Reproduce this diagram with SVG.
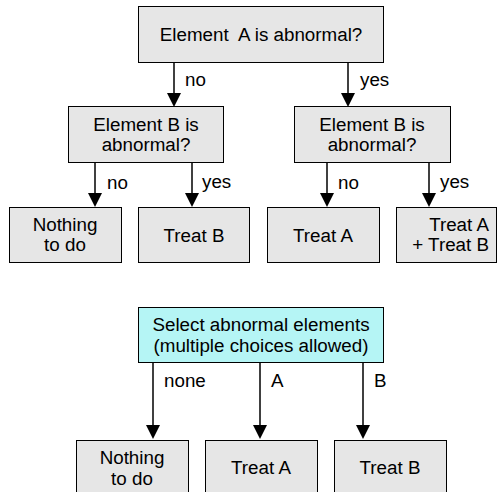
<svg xmlns="http://www.w3.org/2000/svg" width="497" height="492" viewBox="0 0 497 492">
<defs>
<style>
.box{fill:#e6e6e6;stroke:#000;stroke-width:1}
.cyan{fill:#b5f5f5;stroke:#000;stroke-width:1}
text{font-family:"Liberation Sans",Arial,sans-serif;font-size:18.8px;fill:#000}
.c{text-anchor:middle}
.r{text-anchor:end}
.ln{stroke:#000;stroke-width:1.5;fill:none}
.hd{fill:#000}
</style>
</defs>
<rect width="497" height="492" fill="#fff"/>
<g id="connectors">
<line class="ln" x1="174" y1="62" x2="174" y2="96"/><path class="hd" d="M167,93 L181,93 L174,107 Z"/>
<line class="ln" x1="348" y1="62" x2="348" y2="96"/><path class="hd" d="M341,93 L355,93 L348,107 Z"/>
<line class="ln" x1="95" y1="162" x2="95" y2="196"/><path class="hd" d="M88,193 L102,193 L95,207 Z"/>
<line class="ln" x1="192" y1="162" x2="192" y2="196"/><path class="hd" d="M185,193 L199,193 L192,207 Z"/>
<line class="ln" x1="327" y1="162" x2="327" y2="196"/><path class="hd" d="M320,193 L334,193 L327,207 Z"/>
<line class="ln" x1="429" y1="162" x2="429" y2="196"/><path class="hd" d="M422,193 L436,193 L429,207 Z"/>
<line class="ln" x1="153" y1="362" x2="153" y2="428"/><path class="hd" d="M146,425 L160,425 L153,439 Z"/>
<line class="ln" x1="260" y1="362" x2="260" y2="428"/><path class="hd" d="M253,425 L267,425 L260,439 Z"/>
<line class="ln" x1="363" y1="362" x2="363" y2="428"/><path class="hd" d="M356,425 L370,425 L363,439 Z"/>
<text x="185" y="86">no</text>
<text x="360" y="86">yes</text>
<text x="107" y="189">no</text>
<text x="202" y="188">yes</text>
<text x="338" y="189">no</text>
<text x="440" y="188">yes</text>
<text x="164" y="387">none</text>
<text x="271" y="387">A</text>
<text x="374" y="387">B</text>
</g>
<g id="q1"><rect class="box" x="138.5" y="6.5" width="245" height="56"/><text class="c" x="261" y="41" xml:space="preserve">Element  A is abnormal?</text></g>
<g id="q2"><rect class="box" x="68.5" y="106.5" width="155" height="56"/><text class="c" x="146" y="131">Element B is</text><text class="c" x="146" y="151">abnormal?</text></g>
<g id="q3"><rect class="box" x="294.5" y="106.5" width="156" height="56"/><text class="c" x="372" y="131">Element B is</text><text class="c" x="372" y="151">abnormal?</text></g>
<g id="n1"><rect class="box" x="9.5" y="207.5" width="112" height="55"/><text class="c" x="65" y="231">Nothing</text><text class="c" x="65" y="251">to do</text></g>
<g id="n2"><rect class="box" x="138.5" y="207.5" width="111" height="55"/><text class="c" x="194" y="242">Treat B</text></g>
<g id="n3"><rect class="box" x="267.5" y="207.5" width="112" height="55"/><text class="c" x="323" y="242">Treat A</text></g>
<g id="n4"><rect class="box" x="396.5" y="207.5" width="100" height="55"/><text class="r" x="489" y="231">Treat A</text><text class="r" x="489" y="251">+ Treat B</text></g>
<g id="sel"><rect class="cyan" x="138.5" y="307.5" width="245" height="55"/><text class="c" x="261" y="331">Select abnormal elements</text><text class="c" x="261" y="352">(multiple choices allowed)</text></g>
<g id="m1"><rect class="box" x="76.5" y="440.5" width="112" height="60"/><text class="c" x="132" y="464">Nothing</text><text class="c" x="132" y="485">to do</text></g>
<g id="m2"><rect class="box" x="205.5" y="440.5" width="112" height="60"/><text class="c" x="261" y="474">Treat A</text></g>
<g id="m3"><rect class="box" x="334.5" y="440.5" width="112" height="60"/><text class="c" x="390" y="474">Treat B</text></g>
</svg>
